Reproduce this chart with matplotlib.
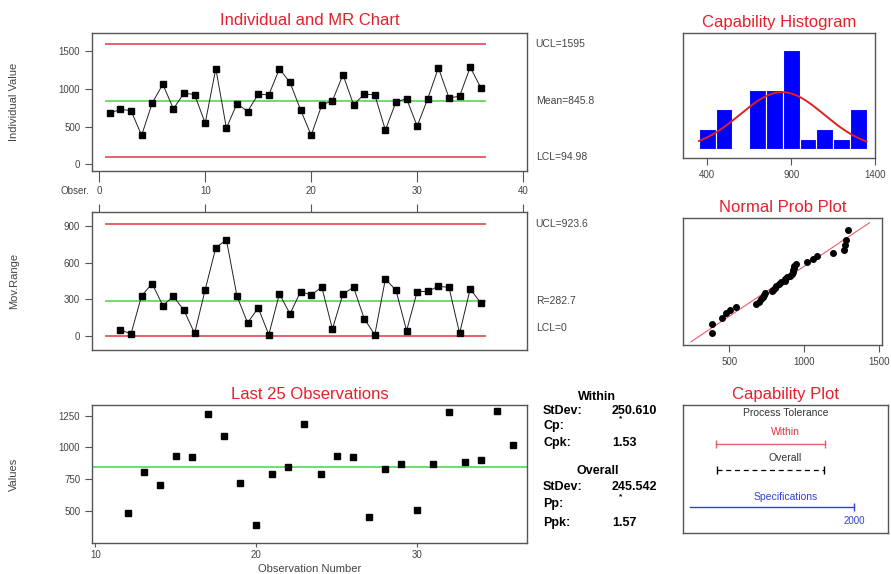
import numpy as np
import matplotlib
matplotlib.use("Agg")
import matplotlib.pyplot as plt
from statistics import NormalDist

plt.rcParams['font.family'] = ['Liberation Sans', 'DejaVu Sans']

# individual observations
values = [679, 728, 713, 383, 813, 1061, 736, 945, 925, 545, 1270, 480,
          806, 700, 930, 921, 1266, 1086, 722, 386, 787, 843, 1188, 789,
          930, 922, 454, 828, 870, 506, 872, 1280, 882, 902, 1288, 1018]

# control limits and capability figures printed on the chart
mean_x = 845.8
ucl_x = 1595
lcl_x = 94.98
ucl_mr = 923.6
mean_mr = 282.7
lcl_mr = 0
sd_within = 250.610
sd_overall = 245.542
usl = 2000
cpk = 1.53
ppk = 1.57

ind_ticks = [0, 500, 1000, 1500]
obs_ticks = [0, 10, 20, 30, 40]
mr_ticks = [0, 300, 600, 900]
last_ticks = [500, 750, 1000, 1250]
last_xticks = [10, 20, 30]
hist_edges = [350, 450, 550, 650, 750, 850, 950, 1050, 1150, 1250, 1350]
hist_ticks = [400, 900, 1400]
prob_ticks = [500, 1000, 1500]

RED = '#e4202c'
LRED = '#e8606c'
GREEN = '#6fdc6f'
GREY = '#555555'

W, H = 891, 574
fig = plt.figure(figsize=(W / 100, H / 100), dpi=100)


def rect(x0, y0, x1, y1):
    return [x0 / W, 1 - y1 / H, (x1 - x0) / W, (y1 - y0) / H]


def ftext(x, y, s, **kw):
    fig.text(x / W, 1 - y / H, s, **kw)


def style(ax):
    for sp in ax.spines.values():
        sp.set_color(GREY)
        sp.set_linewidth(1.0)
    ax.tick_params(colors=GREY, labelsize=7, length=5, width=0.8,
                   labelcolor='#444444')


x = np.array(values, dtype=float)
n = len(x)
obs = np.arange(1, n + 1)
mr = np.abs(np.diff(x))

# ---- Individuals chart
ax1 = fig.add_axes(rect(92, 33, 527, 171))
style(ax1)
ax1.hlines([ucl_x, lcl_x], 0.5, n + 0.5, color=LRED, lw=1.4)
ax1.hlines(mean_x, 0.5, n + 0.5, color=GREEN, lw=1.4)
ax1.plot(obs, x, color='#222222', lw=0.7, marker='s', ms=4, mfc='black', mec='black')
ax1.set_xlim(-0.68, 40.36)
ax1.set_ylim(-89, 1742)
ax1.set_yticks(ind_ticks)
ax1.set_xticks(obs_ticks)
ax1.tick_params(axis='x', length=8, pad=3)
ax1.set_title('Individual and MR Chart', color=RED, fontsize=12, pad=6)
ftext(89, 191, 'Obser.', fontsize=7, color='#444444', ha='right', va='center')
for yv, lab in [(ucl_x, 'UCL=1595'), (mean_x, 'Mean=845.8'), (lcl_x, 'LCL=94.98')]:
    ax1.text(1.02, yv, lab, transform=ax1.get_yaxis_transform(), fontsize=7.5,
             color='#444444', va='center')

# ---- Moving range chart
ax2 = fig.add_axes(rect(92, 212, 527, 350))
style(ax2)
ax2.hlines([ucl_mr, lcl_mr], 0.5, n + 0.5, color=LRED, lw=1.4)
ax2.hlines(mean_mr, 0.5, n + 0.5, color=GREEN, lw=1.4)
ax2.plot(obs[1:], mr, color='#222222', lw=0.7, marker='s', ms=4, mfc='black', mec='black')
ax2.set_xlim(-0.68, 40.36)
ax2.set_ylim(-117, 1019)
ax2.set_yticks(mr_ticks)
ax2.set_xticks(obs_ticks)
ax2.tick_params(axis='x', top=True, bottom=False, labeltop=False, labelbottom=False, length=6)
for yv, lab in [(ucl_mr, 'UCL=923.6'), (mean_mr, 'R=282.7'), (lcl_mr + 60, 'LCL=0')]:
    ax2.text(1.02, yv, lab, transform=ax2.get_yaxis_transform(), fontsize=7.5,
             color='#444444', va='center')

# ---- Last 25 observations
ax3 = fig.add_axes(rect(92, 405, 527, 543))
style(ax3)
last = x[-25:]
ax3.axhline(mean_x, color=GREEN, lw=1.4)
ax3.plot(obs[-25:], last, 's', ms=4, color='black')
ax3.set_xlim(9.79, 36.84)
ax3.set_ylim(246, 1334)
ax3.set_yticks(last_ticks)
ax3.set_xticks(last_xticks)
ax3.tick_params(axis='x', length=3, pad=2)
ax3.set_title('Last 25 Observations', color=RED, fontsize=12, pad=4)
ax3.set_xlabel('Observation Number', fontsize=8, color='#444444', labelpad=3)

ftext(14, 102, 'Individual Value', rotation=90, fontsize=8, color='#444444', ha='center', va='center')
ftext(14, 281, 'Mov.Range', rotation=90, fontsize=8, color='#444444', ha='center', va='center')
ftext(14, 474, 'Values', rotation=90, fontsize=8, color='#444444', ha='center', va='center')

# ---- Capability histogram
ax4 = fig.add_axes(rect(683, 33, 875, 158))
style(ax4)
ax4.hist(x, bins=hist_edges, color='#0000ff', edgecolor='white', lw=0.8)
bw = hist_edges[1] - hist_edges[0]
xs = np.linspace(hist_edges[0], hist_edges[-1], 200)
dens = n * bw * np.exp(-0.5 * ((xs - mean_x) / sd_within) ** 2) / (sd_within * np.sqrt(2 * np.pi))
ax4.plot(xs, dens, color='#e02020', lw=1.4)
ax4.set_xlim(255, 1400)
ax4.set_ylim(-0.91, 11.7)
ax4.set_yticks([])
ax4.set_xticks(hist_ticks)
ax4.set_title('Capability Histogram', color=RED, fontsize=12, pad=4)

# ---- Normal probability plot
ax5 = fig.add_axes(rect(683, 218, 882, 345))
style(ax5)
xsorted = np.sort(x)
nd = NormalDist()
z = np.array([nd.inv_cdf((i - 0.3) / (n + 0.4)) for i in range(1, n + 1)])
zl = np.array([-2.4, 2.35])
ax5.plot(mean_x + zl * sd_within, zl, color=LRED, lw=0.8)
ax5.plot(xsorted, z, 'o', ms=4, color='black')
ax5.set_xlim(191, 1518)
ax5.set_ylim(-2.53, 2.54)
ax5.set_yticks([])
ax5.set_xticks(prob_ticks)
ax5.set_title('Normal Prob Plot', color=RED, fontsize=12, pad=4)

# ---- Capability plot
ax6 = fig.add_axes(rect(683, 405, 888, 533))
style(ax6)
ax6.set_xticks([])
ax6.set_yticks([])
ax6.set_xlim(-366, 2473)
ax6.set_ylim(0, 1)
ax6.set_title('Capability Plot', color=RED, fontsize=12, pad=4)
ax6.text(0.5, 0.935, 'Process Tolerance', transform=ax6.transAxes, ha='center', va='center',
         fontsize=7.5, color='#333333')
ax6.text(0.5, 0.79, 'Within', transform=ax6.transAxes, ha='center', va='center',
         fontsize=7.5, color='#e03040')
w_lo, w_hi = mean_x - 3 * sd_within, mean_x + 3 * sd_within
ax6.plot([w_lo, w_hi], [0.696, 0.696], color=LRED, lw=1.0)
ax6.plot([w_lo, w_hi], [0.696, 0.696], '|', color=LRED, ms=6)
ax6.text(0.5, 0.585, 'Overall', transform=ax6.transAxes, ha='center', va='center',
         fontsize=7.5, color='#333333')
o_lo, o_hi = mean_x - 3 * sd_overall, mean_x + 3 * sd_overall
ax6.plot([o_lo, o_hi], [0.493, 0.493], color='black', lw=0.9, ls=(0, (4, 3)))
ax6.plot([o_lo, o_hi], [0.493, 0.493], '|', color='black', ms=6)
ax6.text(0.5, 0.285, 'Specifications', transform=ax6.transAxes, ha='center', va='center',
         fontsize=7.5, color='#3040d0')
spec_start = -366 + 0.035 * (2473 + 366)
ax6.plot([spec_start, usl], [0.203, 0.203], color='#3040d0', lw=1.0)
ax6.plot([usl], [0.203], '|', color='#3040d0', ms=6)
ax6.text(usl, 0.09, '%d' % usl, ha='center', va='center', fontsize=7, color='#3040d0')

# ---- statistics block
bold = dict(fontsize=9, fontweight='bold', color='black', va='center')
ftext(597, 397, 'Within', ha='center', **bold)
ftext(543, 411, 'StDev:', ha='left', **bold)
ftext(612, 411, '%.3f' % sd_within, ha='left', **bold)
ftext(543, 426, 'Cp:', ha='left', **bold)
ftext(621, 419, '*', ha='center', fontsize=6, fontweight='bold', va='center')
ftext(543, 443, 'Cpk:', ha='left', **bold)
ftext(612, 443, '%.2f' % cpk, ha='left', **bold)
ftext(598, 471, 'Overall', ha='center', **bold)
ftext(543, 487, 'StDev:', ha='left', **bold)
ftext(612, 487, '%.3f' % sd_overall, ha='left', **bold)
ftext(543, 504, 'Pp:', ha='left', **bold)
ftext(621, 497, '*', ha='center', fontsize=6, fontweight='bold', va='center')
ftext(543, 523, 'Ppk:', ha='left', **bold)
ftext(612, 523, '%.2f' % ppk, ha='left', **bold)

fig.savefig('out.png', dpi=100)
